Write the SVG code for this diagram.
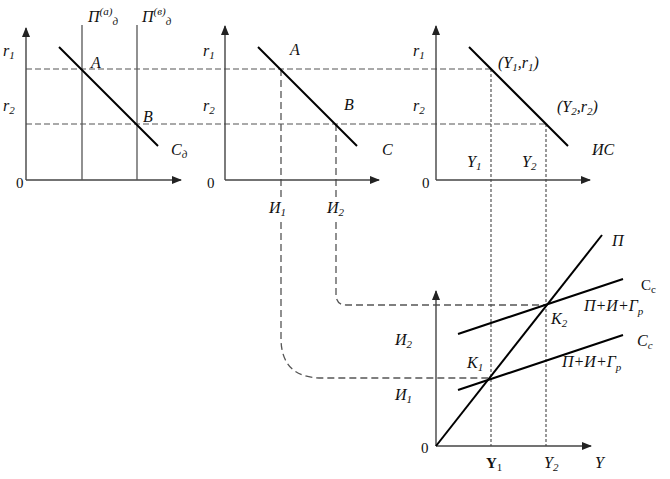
<svg xmlns="http://www.w3.org/2000/svg" width="670" height="479" viewBox="0 0 670 479" font-family="Liberation Serif, Times New Roman, DejaVu Serif, serif">
<defs>
<marker id="arr" viewBox="0 0 10 10" refX="9" refY="5" markerWidth="10" markerHeight="10" markerUnits="userSpaceOnUse" orient="auto">
<path d="M0,1 L10,5 L0,9 Z" fill="#222"/>
</marker>
<style>
.ax{stroke:#444;stroke-width:1.4;fill:none}
.cv{stroke:#000;stroke-width:2;fill:none}
.vl{stroke:#555;stroke-width:1.3;fill:none}
.dh{stroke:#555;stroke-width:1.2;stroke-dasharray:6,3;fill:none}
.dv{stroke:#555;stroke-width:1.2;stroke-dasharray:3,2;fill:none}
.di{stroke:#555;stroke-width:1.3;stroke-dasharray:7,4;fill:none}
text{font-family:'Liberation Serif','Times New Roman',serif;font-size:16px;font-style:italic;fill:#111}
.n{font-style:normal;font-size:15px}
.s{font-size:11px}
</style>
</defs>
<rect width="670" height="479" fill="#fff"/>

<g id="connectors">
<line class="dh" x1="26" y1="69" x2="491" y2="69"/>
<line class="dh" x1="26" y1="124" x2="546" y2="124"/>
<line class="dv" x1="491" y1="69" x2="491" y2="446"/>
<line class="dv" x1="546" y1="124" x2="546" y2="446"/>
<line class="di" x1="281" y1="69" x2="281" y2="197" stroke-dasharray="5,3"/>
<line class="di" x1="336" y1="124" x2="336" y2="197" stroke-dasharray="5,3"/>
<path class="di" d="M281,222 L281,340 Q282,378 322,378 L488,378"/>
<path class="di" d="M336,222 L336,296 Q337,305 346,305 L547,305"/>
</g>

<g id="panel1">
<line class="ax" x1="26" y1="180" x2="26" y2="28" marker-end="url(#arr)"/>
<line class="ax" x1="26" y1="180" x2="181" y2="180" marker-end="url(#arr)"/>
<line class="vl" x1="82" y1="25" x2="82" y2="180"/>
<line class="vl" x1="137" y1="25" x2="137" y2="180"/>
<line class="cv" x1="59" y1="47" x2="158" y2="146"/>
<text x="3" y="56">r<tspan class="s" dy="3">1</tspan></text>
<text x="3" y="111">r<tspan class="s" dy="3">2</tspan></text>
<text class="n" x="16" y="188">0</text>
<text x="91" y="68">A</text>
<text x="143" y="122">B</text>
<text x="171" y="155">C<tspan class="s" dy="3">д</tspan></text>
<text x="88" y="22">П<tspan class="s" dy="-7">(а)</tspan><tspan class="s" dy="10">д</tspan></text>
<text x="142" y="22">П<tspan class="s" dy="-7">(в)</tspan><tspan class="s" dy="10">д</tspan></text>
</g>

<g id="panel2">
<line class="ax" x1="225" y1="180" x2="225" y2="26" marker-end="url(#arr)"/>
<line class="ax" x1="225" y1="180" x2="379" y2="180" marker-end="url(#arr)"/>
<line class="cv" x1="258" y1="47" x2="357" y2="146"/>
<text x="203" y="56">r<tspan class="s" dy="3">1</tspan></text>
<text x="203" y="111">r<tspan class="s" dy="3">2</tspan></text>
<text class="n" x="207" y="188">0</text>
<text x="290" y="55">A</text>
<text x="344" y="110">B</text>
<text x="382" y="155">C</text>
<text x="269" y="213">И<tspan class="s" dy="3">1</tspan></text>
<text x="327" y="213">И<tspan class="s" dy="3">2</tspan></text>
</g>

<g id="panel3">
<line class="ax" x1="436" y1="180" x2="436" y2="26" marker-end="url(#arr)"/>
<line class="ax" x1="436" y1="180" x2="590" y2="180" marker-end="url(#arr)"/>
<line class="cv" x1="469" y1="47" x2="568" y2="146"/>
<text x="413" y="56">r<tspan class="s" dy="3">1</tspan></text>
<text x="413" y="111">r<tspan class="s" dy="3">2</tspan></text>
<text class="n" x="422" y="188">0</text>
<text x="498" y="68">(Y<tspan class="s" dy="3">1</tspan><tspan dy="-3">,r</tspan><tspan class="s" dy="3">1</tspan><tspan dy="-3">)</tspan></text>
<text x="557" y="112">(Y<tspan class="s" dy="3">2</tspan><tspan dy="-3">,r</tspan><tspan class="s" dy="3">2</tspan><tspan dy="-3">)</tspan></text>
<text x="592" y="155">ИС</text>
<text x="467" y="167">Y<tspan class="s" dy="3">1</tspan></text>
<text x="522" y="167">Y<tspan class="s" dy="3">2</tspan></text>
</g>

<g id="panel4">
<line class="ax" x1="436" y1="446" x2="436" y2="291" marker-end="url(#arr)"/>
<line class="ax" x1="436" y1="446" x2="591" y2="446" marker-end="url(#arr)"/>
<line class="cv" x1="436" y1="446" x2="602" y2="235"/>
<line class="cv" x1="458" y1="334" x2="623" y2="279"/>
<line class="cv" x1="458" y1="390" x2="623" y2="335"/>
<text x="612" y="246">П</text>
<text class="n" x="641" y="290">C<tspan class="s" dy="3">с</tspan></text>
<text x="584" y="311">П+И+Г<tspan class="s" dy="4">р</tspan></text>
<text x="637" y="346">C<tspan class="s" dy="3">с</tspan></text>
<text x="562" y="367">П+И+Г<tspan class="s" dy="4">р</tspan></text>
<text x="551" y="324">K<tspan class="s" dy="3">2</tspan></text>
<text x="467" y="368">K<tspan class="s" dy="3">1</tspan></text>
<text x="395" y="345">И<tspan class="s" dy="3">2</tspan></text>
<text x="395" y="400">И<tspan class="s" dy="3">1</tspan></text>
<text class="n" x="421" y="453">0</text>
<text class="n" x="486" y="468" font-weight="bold">Y<tspan class="s" dy="3" font-weight="normal">1</tspan></text>
<text x="544" y="468">Y<tspan class="s" dy="3">2</tspan></text>
<text x="595" y="468">Y</text>
</g>
</svg>
